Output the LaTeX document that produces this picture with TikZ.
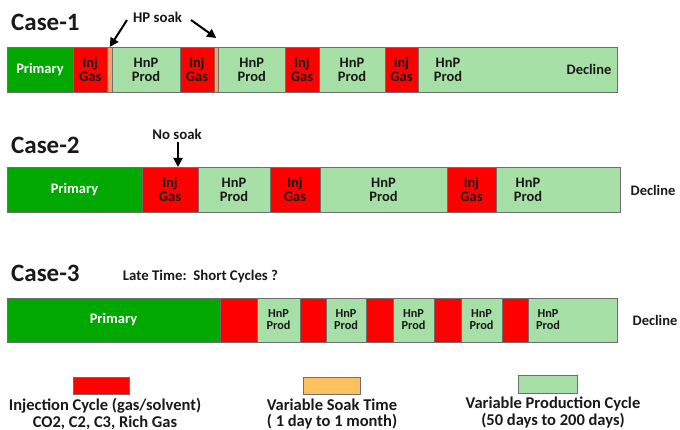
\documentclass[tikz,border=0pt]{standalone}
\usepackage{fontspec}
\setmainfont{Carlito}
\usetikzlibrary{arrows.meta,calc}
\definecolor{dkgreen}{RGB}{0,168,0}
\definecolor{ltgreen}{RGB}{166,224,166}
\definecolor{injred}{RGB}{255,0,0}
\definecolor{soakor}{RGB}{246,160,110}
\definecolor{legor}{RGB}{255,192,96}
\definecolor{edgegray}{RGB}{110,110,110}
\definecolor{txt}{RGB}{25,25,25}
\newcommand\mkseg[7]{\node[segbox,#6,minimum width={(#3-#2)*1pt},minimum height={(#5-#4)*1pt}] (#1) at ({(#2+#3)/2},{(#4+#5)/2}) {#7};}
\tikzset{
  segbox/.style={draw=edgegray,line width=0.7pt,inner sep=0pt,outer sep=0pt,align=center,
    font=\bfseries\fontsize{14.5}{14}\selectfont,text=txt},
  prim/.style={fill=dkgreen,text=white},
  inj/.style={fill=injred},
  hnp/.style={fill=ltgreen},
  soakbox/.style={fill=soakor,draw=soakor!60!black,line width=0.4pt},
  smalltxt/.style={font=\bfseries\fontsize{12.3}{12}\selectfont},
  plaintxt/.style={align=center,inner sep=0pt,text=txt,font=\bfseries\fontsize{14.5}{14}\selectfont},
  casetitle/.style={font=\bfseries\fontsize{25}{25}\selectfont,text=txt,anchor=west,inner sep=0pt},
  notetxt/.style={font=\bfseries\fontsize{14.8}{14.8}\selectfont,text=txt,inner sep=0pt},
  legtxt/.style={font=\bfseries\fontsize{16.5}{16.5}\selectfont,text=txt,align=center,inner sep=0pt},
  arr/.style={-{Triangle[length=9pt,width=9pt]},line width=2pt,black},
}
\begin{document}
\begin{tikzpicture}[x=1pt,y=-1pt]
\useasboundingbox (0,0) rectangle (680,430);
% ---------- Case 1
\node[casetitle] (c1) at (11,22) {Case-1};
\mkseg{a1}{7}{73}{47}{92}{prim}{Primary}
\mkseg{a2}{73}{107.5}{47}{92}{inj}{Inj\\Gas}
\mkseg{a3}{107.5}{112}{47}{92}{soakbox}{}
\mkseg{a4}{112}{180}{47}{92}{hnp}{HnP\\Prod}
\mkseg{a5}{180}{214}{47}{92}{inj}{Inj\\Gas}
\mkseg{a6}{214}{218.5}{47}{92}{soakbox}{}
\mkseg{a7}{218.5}{285}{47}{92}{hnp}{HnP\\Prod}
\mkseg{a8}{285}{319}{47}{92}{inj}{Inj\\Gas}
\mkseg{a9}{319}{385}{47}{92}{hnp}{HnP\\Prod}
\mkseg{a10}{385}{418}{47}{92}{inj}{Inj\\Gas}
\mkseg{a11}{418}{617}{47}{92}{hnp}{}
\node[plaintxt] (a11t) at (448,69.5) {HnP\\Prod};
\node[plaintxt] (a11d) at (589,69.5) {Decline};
\node[notetxt] (hp) at (157.5,17) {HP soak};
\coordinate (hpl) at (127,20);
\coordinate (hpr) at (191,20);
\draw[arr] (hpl) -- (a3.north);
\draw[arr] (hpr) -- ($(a6.north)+(0,-9)$);
% ---------- Case 2
\node[casetitle] (c2) at (11,145) {Case-2};
\mkseg{b1}{7}{142}{167}{212}{prim}{Primary}
\mkseg{b2}{142}{198}{167}{212}{inj}{Inj\\Gas}
\mkseg{b3}{198}{270}{167}{212}{hnp}{HnP\\Prod}
\mkseg{b4}{270}{320}{167}{212}{inj}{Inj\\Gas}
\mkseg{b5}{320}{447}{167}{212}{hnp}{HnP\\Prod}
\mkseg{b6}{447}{496}{167}{212}{inj}{Inj\\Gas}
\mkseg{b7}{496}{620}{167}{212}{hnp}{}
\node[plaintxt] (b7t) at (528,189.5) {HnP\\Prod};
\node[plaintxt] (b8) at (653,190) {Decline};
\node[notetxt] (ns) at (177,134) {No soak};
\coordinate (nsb) at (178,142);
\draw[arr] (nsb) -- (b2.north -| nsb);
% ---------- Case 3
\node[casetitle] (c3) at (11,273) {Case-3};
\node[notetxt] (late) at (200.5,276) {Late Time:\ \ Short Cycles ?};
\mkseg{d1}{7}{220}{298}{342}{prim}{Primary}
\mkseg{d2}{220}{257}{298}{342}{inj}{}
\mkseg{d3}{257}{300}{298}{342}{hnp,smalltxt}{HnP\\Prod}
\mkseg{d4}{300}{326}{298}{342}{inj}{}
\mkseg{d5}{326}{366}{298}{342}{hnp,smalltxt}{HnP\\Prod}
\mkseg{d6}{366}{393}{298}{342}{inj}{}
\mkseg{d7}{393}{434}{298}{342}{hnp,smalltxt}{HnP\\Prod}
\mkseg{d8}{434}{461}{298}{342}{inj}{}
\mkseg{d9}{461}{502}{298}{342}{hnp,smalltxt}{HnP\\Prod}
\mkseg{d10}{502}{528}{298}{342}{inj}{}
\mkseg{d11}{528}{617}{298}{342}{hnp}{}
\node[plaintxt,smalltxt] (d11t) at (548,320) {HnP\\Prod};
\node[plaintxt] (d12) at (655,320) {Decline};
% ---------- Legend
\mkseg{l1}{73}{129}{377}{394}{inj}{}
\mkseg{l2}{303}{360}{377}{394}{fill=legor}{}
\mkseg{l3}{518}{577}{375}{393}{hnp}{}
\node[legtxt] (l1t) at (105,414) {Injection Cycle (gas/solvent)\\CO2, C2, C3, Rich Gas};
\node[legtxt] (l2t) at (332,414) {Variable Soak Time\\( 1 day to 1 month)};
\node[legtxt] (l3t) at (553,412.5) {Variable Production Cycle\\(50 days to 200 days)};
\end{tikzpicture}
\end{document}
